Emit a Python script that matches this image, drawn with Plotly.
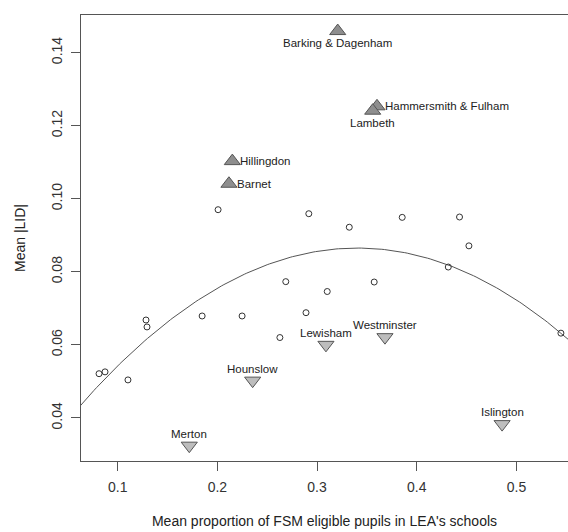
import plotly.graph_objects as go
import numpy as np

# Open-circle LEAs (mean FSM proportion, mean |LID|)
circle_x = [0.0813, 0.0873, 0.1103, 0.1284, 0.1294, 0.1847, 0.2007, 0.2248, 0.2627, 0.2686,
            0.2889, 0.2917, 0.3102, 0.3323, 0.3573, 0.3854, 0.4316, 0.4429, 0.4523, 0.5446]
circle_y = [0.0521, 0.0526, 0.0504, 0.0668, 0.0649, 0.0679, 0.0970, 0.0679, 0.0620, 0.0773,
            0.0688, 0.0959, 0.0746, 0.0922, 0.0772, 0.0949, 0.0813, 0.0950, 0.0871, 0.0632]

# High outliers (triangle up)
up_names = ["Barking & Dagenham", "Hammersmith & Fulham", "Lambeth", "Hillingdon", "Barnet"]
up_x = [0.3207, 0.3601, 0.3558, 0.2150, 0.2116]
up_y = [0.1459, 0.1253, 0.1241, 0.1103, 0.1041]
up_pos = ["below", "right", "below", "right", "right"]

# Low outliers (triangle down)
down_names = ["Merton", "Hounslow", "Lewisham", "Westminster", "Islington"]
down_x = [0.1718, 0.2354, 0.3089, 0.3681, 0.4856]
down_y = [0.0324, 0.0502, 0.0600, 0.0621, 0.0383]
down_pos = ["above", "above", "above", "above", "above"]

# Quadratic fit (vertex form)
fit_peak_x = 0.3404
fit_peak_y = 0.0865
fit_curv = -0.5583

x_range = [0.0632, 0.5517]
y_range = [0.0282, 0.1503]
x_ticks = [0.1, 0.2, 0.3, 0.4, 0.5]
y_ticks = [0.04, 0.06, 0.08, 0.10, 0.12, 0.14]

FONT = "Liberation Sans, Arial, Helvetica, sans-serif"
LINE = "#555555"

fig = go.Figure()

cx = np.linspace(x_range[0] - 0.01, x_range[1] + 0.01, 200)
cy = fit_peak_y + fit_curv * (cx - fit_peak_x) ** 2
fig.add_trace(go.Scatter(x=cx, y=cy, mode="lines",
                         line=dict(color=LINE, width=1), hoverinfo="skip"))

fig.add_trace(go.Scatter(x=circle_x, y=circle_y, mode="markers",
                         marker=dict(symbol="circle-open", size=6,
                                     color="#333333", line=dict(width=1))))

fig.add_trace(go.Scatter(x=up_x, y=up_y, mode="markers",
                         marker=dict(symbol="triangle-up", size=14, color="#8e8e8e",
                                     line=dict(color="#555555", width=1))))

fig.add_trace(go.Scatter(x=down_x, y=down_y, mode="markers",
                         marker=dict(symbol="triangle-down", size=14, color="#bdbdbd",
                                     line=dict(color="#555555", width=1))))

anns = []
for names, xs, ys, pos in [(up_names, up_x, up_y, up_pos), (down_names, down_x, down_y, down_pos)]:
    for n, x, y, p in zip(names, xs, ys, pos):
        a = dict(x=x, y=y, text=n, showarrow=False,
                 font=dict(family=FONT, size=11.5, color="#222222"), yanchor="middle")
        if p == "right":
            a.update(xanchor="left", xshift=6)
        elif p == "below":
            a.update(xanchor="center", yshift=-12)
        else:
            a.update(xanchor="center", yshift=12)
        anns.append(a)

fig.update_layout(
    width=568, height=532,
    margin=dict(l=81, r=0, t=15, b=71),
    paper_bgcolor="white", plot_bgcolor="white",
    showlegend=False,
    font=dict(family=FONT, size=14, color="#333333"),
    annotations=anns,
    xaxis=dict(range=x_range, tickvals=x_ticks, ticktext=["0.1", "0.2", "0.3", "0.4", "0.5"],
               showgrid=False, zeroline=False, showline=True, mirror=True,
               linecolor=LINE, linewidth=1, ticks="outside", ticklen=9,
               tickcolor=LINE, tickfont=dict(size=14, color="#333333"),
               ticklabelstandoff=4,
               title=dict(text="Mean proportion of FSM eligible pupils in LEA's schools",
                          font=dict(size=14, color="#222222"), standoff=22)),
    yaxis=dict(range=y_range, tickvals=y_ticks,
               ticktext=["0.04", "0.06", "0.08", "0.10", "0.12", "0.14"],
               showgrid=False, zeroline=False, showline=True, mirror=False,
               linecolor=LINE, linewidth=1, ticks="outside", ticklen=9,
               tickcolor=LINE, tickangle=-90, tickfont=dict(size=14, color="#333333"),
               ticklabelstandoff=3,
               title=dict(text="Mean |LID|", font=dict(size=14, color="#222222"), standoff=20)),
)

fig.write_html("out.html", config={"displayModeBar": False},
               post_script="document.body.style.margin='0px';document.body.style.overflow='hidden';")
